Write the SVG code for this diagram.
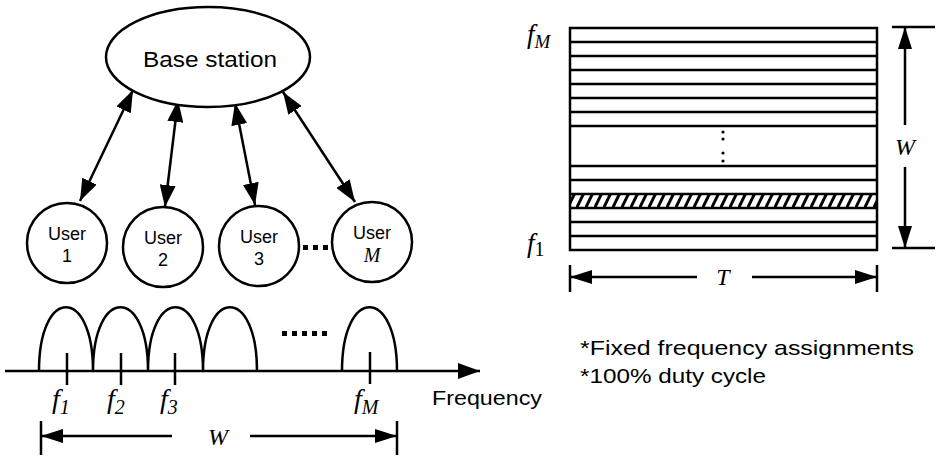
<svg xmlns="http://www.w3.org/2000/svg" width="937" height="458" viewBox="0 0 937 458">
<style>
.ln{stroke:#000;stroke-width:2.5;fill:none}
.sans{font-family:"Liberation Sans",Arial,sans-serif;fill:#000}
.ser{font-family:"Liberation Serif","Times New Roman",serif;font-style:italic;fill:#000}
.up{font-style:normal}
.node{fill:#fff;stroke:#000;stroke-width:2.5}
</style>
<defs>
<marker id="ah" markerUnits="userSpaceOnUse" markerWidth="22" markerHeight="16" refX="22" refY="8" orient="auto-start-reverse">
<path d="M0,0 L22,8 L0,16 z" fill="#000"/>
</marker>
<marker id="dh" markerUnits="userSpaceOnUse" markerWidth="22" markerHeight="14" refX="22" refY="7" orient="auto-start-reverse">
<path d="M0,0 L22,7 L0,14 z" fill="#000"/>
</marker>
<pattern id="hatch" patternUnits="userSpaceOnUse" x="0" y="194" width="9" height="14">
<rect width="9" height="14" fill="#fff"/>
<line x1="0" y1="15" x2="8" y2="-1" stroke="#000" stroke-width="3"/>
</pattern>
</defs>

<g id="connectors">
<line class="ln" x1="80" y1="201" x2="133" y2="90" marker-start="url(#ah)" marker-end="url(#ah)"/>
<line class="ln" x1="165" y1="207" x2="178" y2="100" marker-start="url(#ah)" marker-end="url(#ah)"/>
<line class="ln" x1="255" y1="205" x2="235" y2="103" marker-start="url(#ah)" marker-end="url(#ah)"/>
<line class="ln" x1="355" y1="202" x2="283" y2="92" marker-start="url(#ah)" marker-end="url(#ah)"/>
</g>

<g id="base-station">
<ellipse class="node" cx="208" cy="57" rx="102" ry="50"/>
<text class="sans" x="143" y="67" font-size="22" textLength="134" lengthAdjust="spacingAndGlyphs">Base  station</text>
</g>

<g id="user-1">
<circle class="node" cx="67" cy="243" r="40"/>
<text class="sans" x="67" y="240" font-size="18" text-anchor="middle">User</text>
<text class="sans" x="67" y="262" font-size="18" text-anchor="middle">1</text>
</g>
<g id="user-2">
<circle class="node" cx="163" cy="247" r="40"/>
<text class="sans" x="163" y="244" font-size="18" text-anchor="middle">User</text>
<text class="sans" x="163" y="266" font-size="18" text-anchor="middle">2</text>
</g>
<g id="user-3">
<circle class="node" cx="259" cy="246" r="40"/>
<text class="sans" x="259" y="243" font-size="18" text-anchor="middle">User</text>
<text class="sans" x="259" y="265" font-size="18" text-anchor="middle">3</text>
</g>
<g id="user-M">
<circle class="node" cx="372" cy="242" r="40"/>
<text class="sans" x="372" y="239" font-size="18" text-anchor="middle">User</text>
<text class="ser" x="372" y="262" font-size="20" text-anchor="middle">M</text>
</g>
<g id="user-dots" fill="#000">
<rect x="303" y="245" width="5" height="5"/>
<rect x="313" y="245" width="5" height="5"/>
<rect x="323" y="245" width="5" height="5"/>
</g>

<g id="spectrum">
<path class="ln" d="M39,371 C39,286 93,286 93,371 C93,286 148,286 148,371 C148,286 203,286 203,371 C203,286 257,286 257,371"/>
<path class="ln" d="M342,371 C342,286 397,286 397,371"/>
<line class="ln" x1="5" y1="371" x2="480" y2="371" marker-end="url(#ah)"/>
<line class="ln" x1="67" y1="353" x2="67" y2="385"/>
<line class="ln" x1="121" y1="353" x2="121" y2="385"/>
<line class="ln" x1="175" y1="353" x2="175" y2="385"/>
<line class="ln" x1="370" y1="352" x2="370" y2="384"/>
<g fill="#000">
<rect x="282" y="331" width="5" height="5"/>
<rect x="292" y="331" width="5" height="5"/>
<rect x="302" y="331" width="5" height="5"/>
<rect x="312" y="331" width="5" height="5"/>
<rect x="322" y="331" width="5" height="5"/>
</g>
<text class="ser" x="52" y="408" font-size="28">f<tspan font-size="20" dy="6">1</tspan></text>
<text class="ser" x="107" y="408" font-size="28">f<tspan font-size="20" dy="6">2</tspan></text>
<text class="ser" x="160" y="408" font-size="28">f<tspan font-size="20" dy="6">3</tspan></text>
<text class="ser" x="354" y="408" font-size="28">f<tspan font-size="20" dy="6">M</tspan></text>
<text class="sans" x="432" y="405" font-size="21" textLength="110" lengthAdjust="spacingAndGlyphs">Frequency</text>
<line class="ln" x1="41" y1="421" x2="41" y2="455"/>
<line class="ln" x1="397" y1="421" x2="397" y2="455"/>
<line class="ln" x1="172" y1="436" x2="41" y2="436" marker-end="url(#dh)"/>
<line class="ln" x1="250" y1="436" x2="397" y2="436" marker-end="url(#dh)"/>
<text class="ser" x="218" y="445" font-size="24" text-anchor="middle">W</text>
</g>

<g id="time-frequency-grid">
<rect x="570" y="194" width="307" height="14" fill="url(#hatch)"/>
<rect class="ln" x="570" y="28" width="307" height="222"/>
<path class="ln" d="M570,42H877M570,56H877M570,70H877M570,84H877M570,98H877M570,112H877M570,126H877M570,166H877M570,180H877M570,194H877M570,208H877M570,222H877M570,236H877"/>
<g fill="#000">
<circle cx="723" cy="132" r="1.6"/>
<circle cx="723" cy="139" r="1.6"/>
<circle cx="723" cy="153" r="1.6"/>
<circle cx="723" cy="161" r="1.6"/>
</g>
<text class="ser" x="527" y="43" font-size="27">f<tspan font-size="19" dy="5">M</tspan></text>
<text class="ser" x="527" y="252" font-size="27">f<tspan class="up" font-size="20" dy="4">1</tspan></text>
<line class="ln" x1="892" y1="27" x2="935" y2="27"/>
<line class="ln" x1="892" y1="248" x2="935" y2="248"/>
<line class="ln" x1="905" y1="125" x2="905" y2="27" marker-end="url(#dh)"/>
<line class="ln" x1="905" y1="167" x2="905" y2="248" marker-end="url(#dh)"/>
<text class="ser" x="905" y="155" font-size="24" text-anchor="middle">W</text>
<line class="ln" x1="570" y1="265" x2="570" y2="292"/>
<line class="ln" x1="877" y1="265" x2="877" y2="292"/>
<line class="ln" x1="697" y1="277" x2="570" y2="277" marker-end="url(#dh)"/>
<line class="ln" x1="752" y1="277" x2="877" y2="277" marker-end="url(#dh)"/>
<text class="ser" x="723" y="285" font-size="24" text-anchor="middle">T</text>
</g>

<g id="notes">
<text class="sans" x="580" y="355" font-size="21" textLength="334" lengthAdjust="spacingAndGlyphs">*Fixed  frequency  assignments</text>
<text class="sans" x="580" y="383" font-size="21" textLength="186" lengthAdjust="spacingAndGlyphs">*100% duty cycle</text>
</g>
</svg>
